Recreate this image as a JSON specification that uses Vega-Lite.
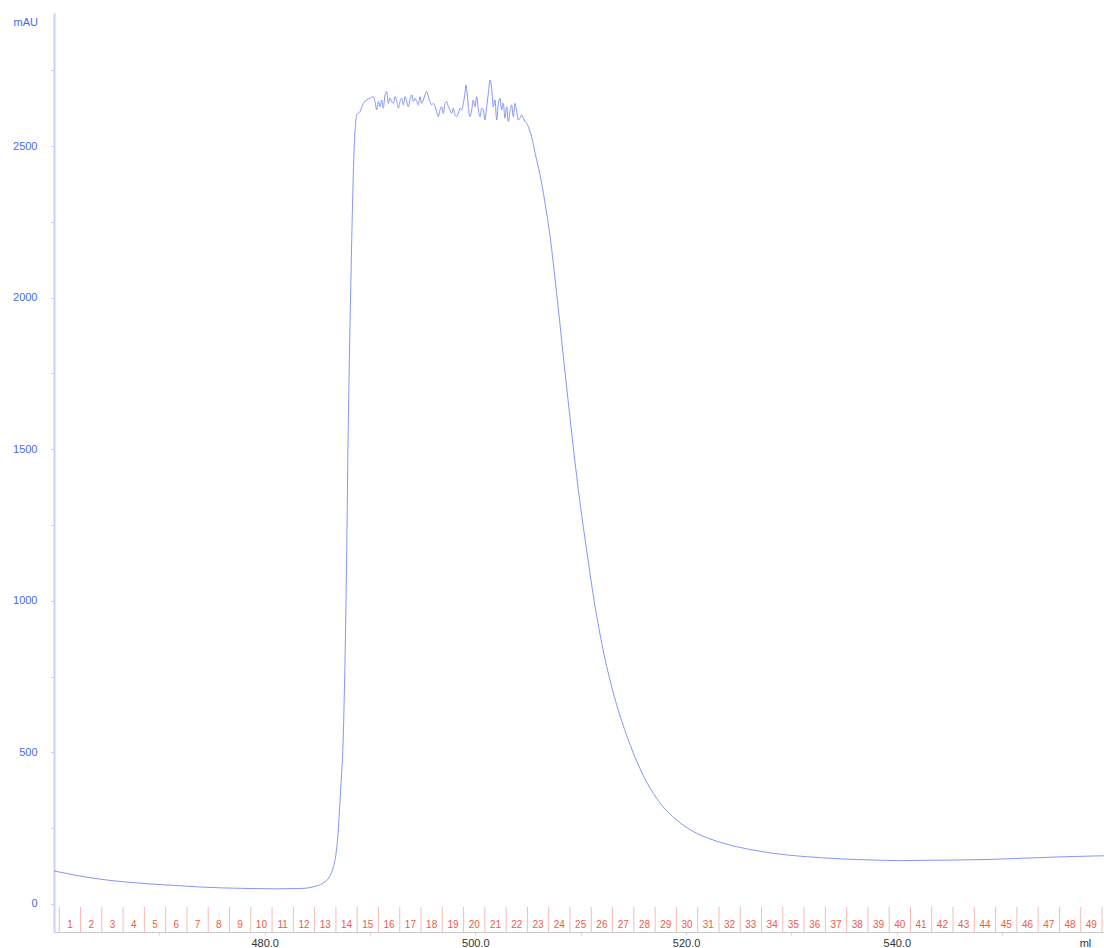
{
  "$schema": "https://vega.github.io/schema/vega-lite/v6.json",
  "width": 1050,
  "height": 919,
  "autosize": {"type": "none"},
  "padding": {"left": 54, "top": 13, "right": 0, "bottom": 16},
  "background": "white",
  "config": {
    "view": {"stroke": null},
    "font": "Liberation Sans"
  },
  "datasets": {
    "trace": [
      {"ml": 460.0, "mAU": 109}, {"ml": 461.0, "mAU": 102}, {"ml": 462.0, "mAU": 95}, {"ml": 463.0, "mAU": 89},
      {"ml": 464.37, "mAU": 82}, {"ml": 465.5, "mAU": 77}, {"ml": 467.0, "mAU": 72}, {"ml": 469.11, "mAU": 66},
      {"ml": 471.5, "mAU": 61}, {"ml": 473.86, "mAU": 56}, {"ml": 476.0, "mAU": 53}, {"ml": 478.6, "mAU": 51},
      {"ml": 481.0, "mAU": 50}, {"ml": 483.35, "mAU": 51}, {"ml": 484.3, "mAU": 54}, {"ml": 484.77, "mAU": 58},
      {"ml": 485.3, "mAU": 64}, {"ml": 485.72, "mAU": 73}, {"ml": 486.0, "mAU": 82}, {"ml": 486.3, "mAU": 100},
      {"ml": 486.5, "mAU": 120}, {"ml": 486.7, "mAU": 150}, {"ml": 486.85, "mAU": 190}, {"ml": 487.0, "mAU": 250},
      {"ml": 487.15, "mAU": 340}, {"ml": 487.3, "mAU": 430}, {"ml": 487.43, "mAU": 520}, {"ml": 487.55, "mAU": 680},
      {"ml": 487.65, "mAU": 850}, {"ml": 487.72, "mAU": 1000}, {"ml": 487.8, "mAU": 1200}, {"ml": 487.9, "mAU": 1500},
      {"ml": 488.0, "mAU": 1720}, {"ml": 488.15, "mAU": 2000}, {"ml": 488.3, "mAU": 2250}, {"ml": 488.45, "mAU": 2450},
      {"ml": 488.6, "mAU": 2560},
      {"ml": 488.73, "mAU": 2603}, {"ml": 489.05, "mAU": 2614}, {"ml": 489.36, "mAU": 2641}, {"ml": 489.68, "mAU": 2652},
      {"ml": 489.99, "mAU": 2658}, {"ml": 490.31, "mAU": 2663}, {"ml": 490.47, "mAU": 2647}, {"ml": 490.63, "mAU": 2619},
      {"ml": 490.79, "mAU": 2647}, {"ml": 490.95, "mAU": 2630}, {"ml": 491.10, "mAU": 2652}, {"ml": 491.26, "mAU": 2625},
      {"ml": 491.42, "mAU": 2669}, {"ml": 491.58, "mAU": 2680}, {"ml": 491.74, "mAU": 2641}, {"ml": 491.89, "mAU": 2658},
      {"ml": 492.05, "mAU": 2647}, {"ml": 492.21, "mAU": 2641}, {"ml": 492.37, "mAU": 2663}, {"ml": 492.53, "mAU": 2647},
      {"ml": 492.69, "mAU": 2625}, {"ml": 492.84, "mAU": 2647}, {"ml": 493.00, "mAU": 2658}, {"ml": 493.16, "mAU": 2636},
      {"ml": 493.32, "mAU": 2663}, {"ml": 493.48, "mAU": 2647}, {"ml": 493.63, "mAU": 2630}, {"ml": 493.79, "mAU": 2652},
      {"ml": 493.95, "mAU": 2669}, {"ml": 494.11, "mAU": 2647}, {"ml": 494.27, "mAU": 2658}, {"ml": 494.43, "mAU": 2647},
      {"ml": 494.58, "mAU": 2636}, {"ml": 494.74, "mAU": 2663}, {"ml": 494.90, "mAU": 2641}, {"ml": 495.06, "mAU": 2652},
      {"ml": 495.22, "mAU": 2669}, {"ml": 495.38, "mAU": 2680}, {"ml": 495.53, "mAU": 2663}, {"ml": 495.69, "mAU": 2647},
      {"ml": 495.85, "mAU": 2636}, {"ml": 496.01, "mAU": 2641}, {"ml": 496.17, "mAU": 2630}, {"ml": 496.32, "mAU": 2614},
      {"ml": 496.48, "mAU": 2597}, {"ml": 496.64, "mAU": 2619}, {"ml": 496.80, "mAU": 2630}, {"ml": 496.96, "mAU": 2608},
      {"ml": 497.12, "mAU": 2641}, {"ml": 497.27, "mAU": 2647}, {"ml": 497.43, "mAU": 2630}, {"ml": 497.59, "mAU": 2619},
      {"ml": 497.75, "mAU": 2608}, {"ml": 497.91, "mAU": 2625}, {"ml": 498.06, "mAU": 2603}, {"ml": 498.22, "mAU": 2597},
      {"ml": 498.38, "mAU": 2608}, {"ml": 498.54, "mAU": 2625}, {"ml": 498.70, "mAU": 2619}, {"ml": 498.86, "mAU": 2641},
      {"ml": 499.01, "mAU": 2674}, {"ml": 499.11, "mAU": 2702}, {"ml": 499.23, "mAU": 2669}, {"ml": 499.33, "mAU": 2630},
      {"ml": 499.49, "mAU": 2597}, {"ml": 499.65, "mAU": 2619}, {"ml": 499.80, "mAU": 2652}, {"ml": 499.96, "mAU": 2630},
      {"ml": 500.12, "mAU": 2663}, {"ml": 500.28, "mAU": 2619}, {"ml": 500.44, "mAU": 2597}, {"ml": 500.60, "mAU": 2625},
      {"ml": 500.75, "mAU": 2619}, {"ml": 500.91, "mAU": 2586}, {"ml": 501.07, "mAU": 2630}, {"ml": 501.23, "mAU": 2674},
      {"ml": 501.39, "mAU": 2718}, {"ml": 501.54, "mAU": 2691}, {"ml": 501.70, "mAU": 2630}, {"ml": 501.86, "mAU": 2652},
      {"ml": 502.02, "mAU": 2586}, {"ml": 502.18, "mAU": 2641}, {"ml": 502.34, "mAU": 2658}, {"ml": 502.49, "mAU": 2619},
      {"ml": 502.65, "mAU": 2641}, {"ml": 502.81, "mAU": 2592}, {"ml": 502.97, "mAU": 2630}, {"ml": 503.13, "mAU": 2581},
      {"ml": 503.29, "mAU": 2614}, {"ml": 503.44, "mAU": 2636}, {"ml": 503.60, "mAU": 2597}, {"ml": 503.76, "mAU": 2641},
      {"ml": 503.92, "mAU": 2614}, {"ml": 504.08, "mAU": 2586}, {"ml": 504.23, "mAU": 2592}, {"ml": 504.39, "mAU": 2603},
      {"ml": 504.55, "mAU": 2592}, {"ml": 504.71, "mAU": 2581}, {"ml": 504.87, "mAU": 2575}, {"ml": 505.03, "mAU": 2564},
      {"ml": 505.18, "mAU": 2548}, {"ml": 505.34, "mAU": 2531}, {"ml": 505.50, "mAU": 2505}, {"ml": 505.66, "mAU": 2478},
      {"ml": 505.97, "mAU": 2432}, {"ml": 506.29, "mAU": 2378}, {"ml": 506.61, "mAU": 2312}, {"ml": 507.08, "mAU": 2205},
      {"ml": 507.39, "mAU": 2115}, {"ml": 507.72, "mAU": 2012}, {"ml": 508.03, "mAU": 1912}, {"ml": 508.34, "mAU": 1808},
      {"ml": 508.67, "mAU": 1703}, {"ml": 508.98, "mAU": 1604}, {"ml": 509.29, "mAU": 1507}, {"ml": 509.62, "mAU": 1410},
      {"ml": 509.93, "mAU": 1325}, {"ml": 510.24, "mAU": 1245}, {"ml": 510.57, "mAU": 1165}, {"ml": 511.19, "mAU": 1018},
      {"ml": 511.99, "mAU": 861}, {"ml": 512.94, "mAU": 716}, {"ml": 513.89, "mAU": 604}, {"ml": 514.99, "mAU": 498},
      {"ml": 516.26, "mAU": 402}, {"ml": 517.53, "mAU": 333}, {"ml": 519.11, "mAU": 277}, {"ml": 520.68, "mAU": 239},
      {"ml": 522.58, "mAU": 211}, {"ml": 524.80, "mAU": 189}, {"ml": 527.01, "mAU": 174}, {"ml": 528.28, "mAU": 167},
      {"ml": 531.45, "mAU": 156}, {"ml": 534.61, "mAU": 149}, {"ml": 537.77, "mAU": 145}, {"ml": 540.30, "mAU": 143},
      {"ml": 542.52, "mAU": 144}, {"ml": 545.69, "mAU": 145}, {"ml": 548.85, "mAU": 147}, {"ml": 552.01, "mAU": 151},
      {"ml": 555.18, "mAU": 155}, {"ml": 558.34, "mAU": 158}, {"ml": 559.67, "mAU": 159}
    ],
    "cuts": [
      {"ml": 460.50}, {"ml": 462.52}, {"ml": 464.54}, {"ml": 466.56}, {"ml": 468.58}, {"ml": 470.60}, {"ml": 472.62},
      {"ml": 474.64}, {"ml": 476.66}, {"ml": 478.68}, {"ml": 480.70}, {"ml": 482.72}, {"ml": 484.74}, {"ml": 486.76},
      {"ml": 488.78}, {"ml": 490.80}, {"ml": 492.82}, {"ml": 494.84}, {"ml": 496.86}, {"ml": 498.88}, {"ml": 500.90},
      {"ml": 502.92}, {"ml": 504.94}, {"ml": 506.96}, {"ml": 508.98}, {"ml": 511.00}, {"ml": 513.02}, {"ml": 515.04},
      {"ml": 517.06}, {"ml": 519.08}, {"ml": 521.10}, {"ml": 523.12}, {"ml": 525.14}, {"ml": 527.16}, {"ml": 529.18},
      {"ml": 531.20}, {"ml": 533.22}, {"ml": 535.24}, {"ml": 537.26}, {"ml": 539.28}, {"ml": 541.30}, {"ml": 543.32},
      {"ml": 545.34}, {"ml": 547.36}, {"ml": 549.38}, {"ml": 551.40}, {"ml": 553.42}, {"ml": 555.44}, {"ml": 557.46},
      {"ml": 559.48}
    ],
    "fractions": [
      {"frac": "1", "ml": 461.51}, {"frac": "2", "ml": 463.53}, {"frac": "3", "ml": 465.55}, {"frac": "4", "ml": 467.57},
      {"frac": "5", "ml": 469.59}, {"frac": "6", "ml": 471.61}, {"frac": "7", "ml": 473.63}, {"frac": "8", "ml": 475.65},
      {"frac": "9", "ml": 477.67}, {"frac": "10", "ml": 479.69}, {"frac": "11", "ml": 481.71}, {"frac": "12", "ml": 483.73},
      {"frac": "13", "ml": 485.75}, {"frac": "14", "ml": 487.77}, {"frac": "15", "ml": 489.79}, {"frac": "16", "ml": 491.81},
      {"frac": "17", "ml": 493.83}, {"frac": "18", "ml": 495.85}, {"frac": "19", "ml": 497.87}, {"frac": "20", "ml": 499.89},
      {"frac": "21", "ml": 501.91}, {"frac": "22", "ml": 503.93}, {"frac": "23", "ml": 505.95}, {"frac": "24", "ml": 507.97},
      {"frac": "25", "ml": 509.99}, {"frac": "26", "ml": 512.01}, {"frac": "27", "ml": 514.03}, {"frac": "28", "ml": 516.05},
      {"frac": "29", "ml": 518.07}, {"frac": "30", "ml": 520.09}, {"frac": "31", "ml": 522.11}, {"frac": "32", "ml": 524.13},
      {"frac": "33", "ml": 526.15}, {"frac": "34", "ml": 528.17}, {"frac": "35", "ml": 530.19}, {"frac": "36", "ml": 532.21},
      {"frac": "37", "ml": 534.23}, {"frac": "38", "ml": 536.25}, {"frac": "39", "ml": 538.27}, {"frac": "40", "ml": 540.29},
      {"frac": "41", "ml": 542.31}, {"frac": "42", "ml": 544.33}, {"frac": "43", "ml": 546.35}, {"frac": "44", "ml": 548.37},
      {"frac": "45", "ml": 550.39}, {"frac": "46", "ml": 552.41}, {"frac": "47", "ml": 554.43}, {"frac": "48", "ml": 556.45},
      {"frac": "49", "ml": 558.47}
    ]
  },
  "layer": [
    {
      "data": {"name": "cuts"},
      "mark": {"type": "rule", "color": "#f7bcb4", "strokeWidth": 1},
      "encoding": {
        "x": {"field": "ml", "type": "quantitative"},
        "y": {"datum": -10, "type": "quantitative"},
        "y2": {"datum": -92.4}
      }
    },
    {
      "data": {"name": "fractions"},
      "mark": {"type": "text", "color": "#f05a46", "fontSize": 10, "align": "center", "baseline": "middle"},
      "encoding": {
        "x": {"field": "ml", "type": "quantitative"},
        "y": {"datum": -69, "type": "quantitative"},
        "text": {"field": "frac"}
      }
    },
    {
      "data": {"name": "trace"},
      "mark": {"type": "line", "color": "#8597f6", "strokeWidth": 1, "interpolate": "monotone"},
      "encoding": {
        "x": {
          "field": "ml",
          "type": "quantitative",
          "scale": {"domain": [460, 559.67], "nice": false, "zero": false},
          "axis": {
            "values": [470, 480, 490, 500, 510, 520, 530, 540, 550],
            "labelExpr": "datum.value % 20 == 0 ? format(datum.value, '.1f') : ''",
            "grid": false,
            "domainColor": "#c8c8c8",
            "domainWidth": 1,
            "tickColor": "#d4d4d4",
            "tickSize": 3,
            "labelColor": "#333333",
            "labelFontSize": 11,
            "labelPadding": 2,
            "title": "ml",
            "titleFontSize": 11,
            "titleFontWeight": "normal",
            "titleColor": "#333333",
            "titleX": 1031,
            "titleY": 11,
            "titleAlign": "center",
            "titleBaseline": "middle"
          }
        },
        "y": {
          "field": "mAU",
          "type": "quantitative",
          "scale": {"domain": [-92.4, 2939], "nice": false, "zero": false},
          "axis": {
            "values": [0, 250, 500, 750, 1000, 1250, 1500, 1750, 2000, 2250, 2500, 2750],
            "labelExpr": "datum.value % 500 == 0 ? datum.label : ''",
            "format": "d",
            "grid": false,
            "domainColor": "#c9d1fa",
            "domainWidth": 2,
            "tickColor": "#b8c4f8",
            "tickSize": 3,
            "labelColor": "#4a68ee",
            "labelFontSize": 11,
            "labelPadding": 14,
            "title": "mAU",
            "titleFontSize": 11,
            "titleFontWeight": "normal",
            "titleColor": "#4a68ee",
            "titleAngle": 0,
            "titleX": -41,
            "titleY": 9,
            "titleAlign": "left",
            "titleBaseline": "middle"
          }
        }
      }
    }
  ]
}
